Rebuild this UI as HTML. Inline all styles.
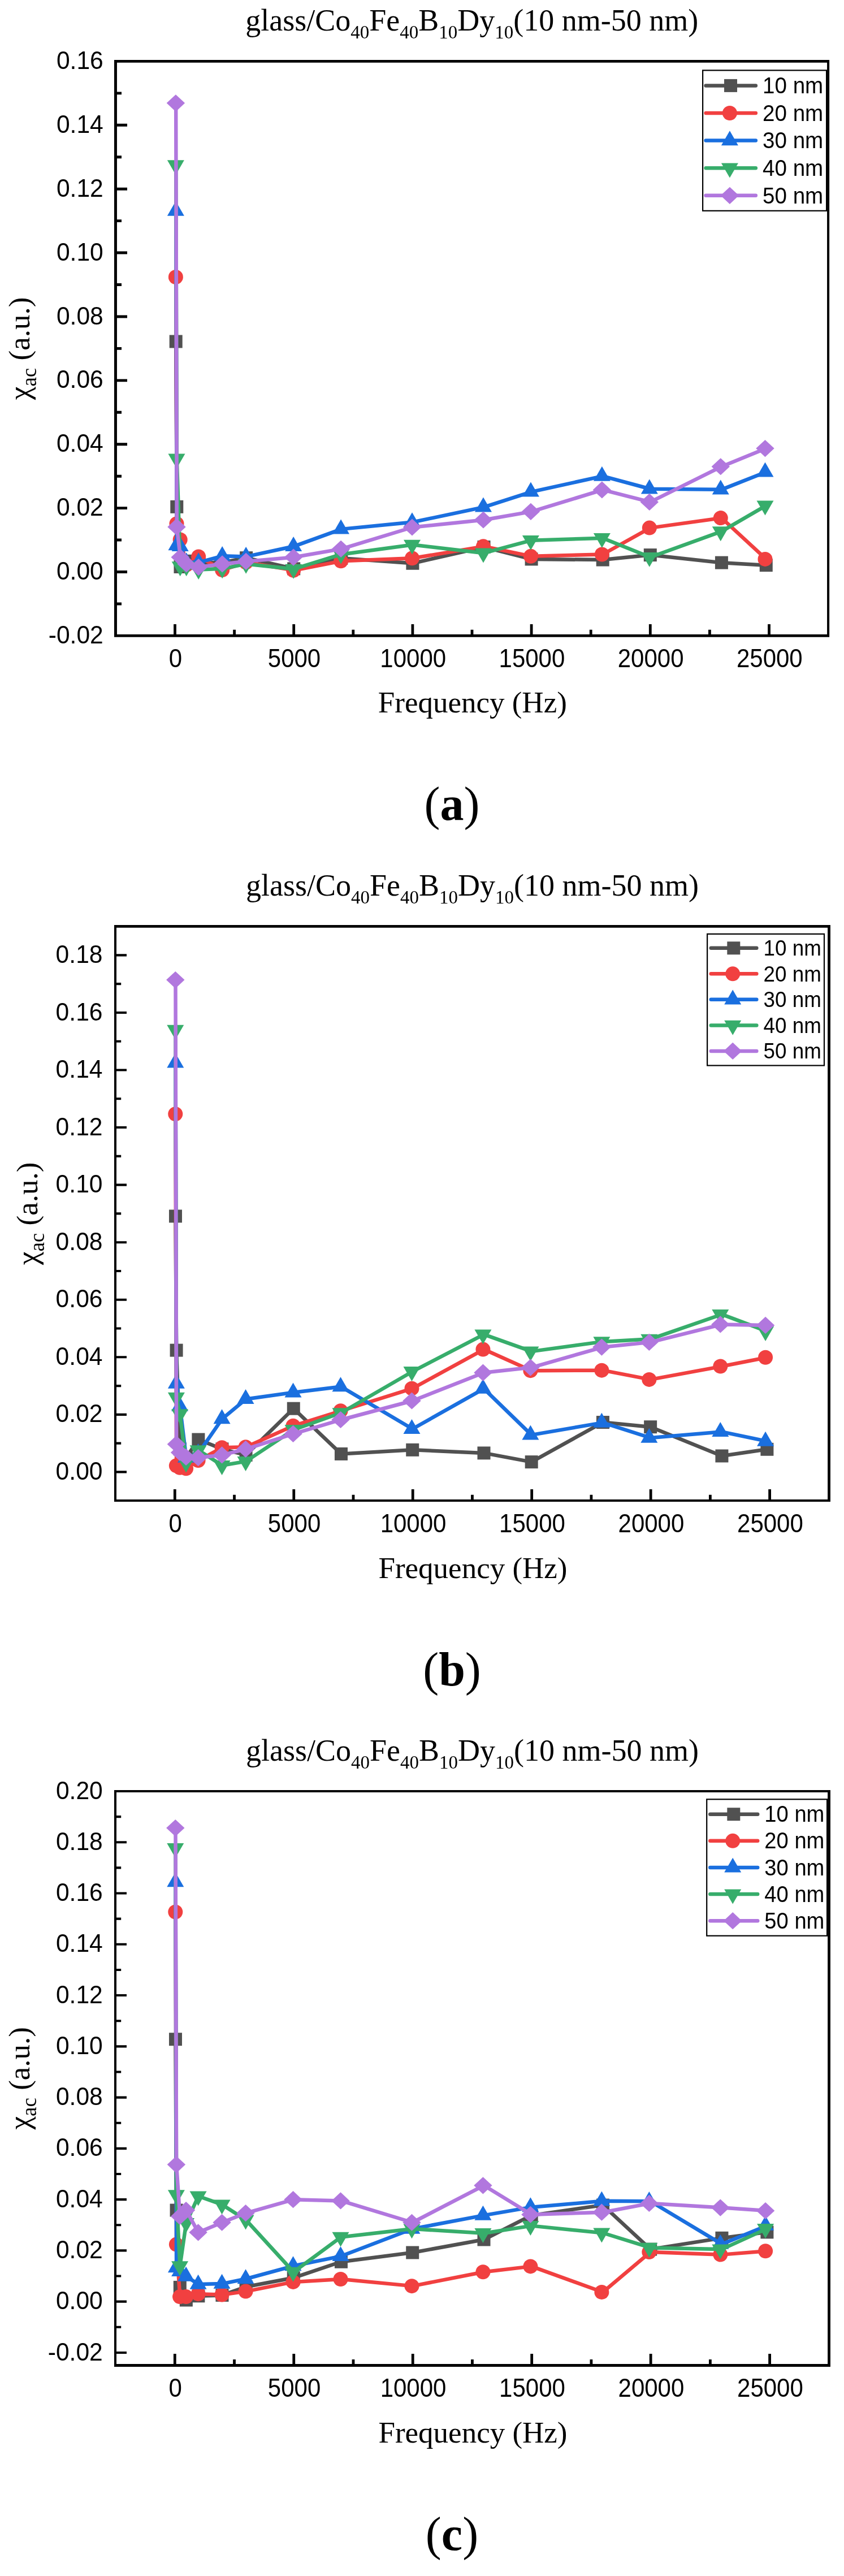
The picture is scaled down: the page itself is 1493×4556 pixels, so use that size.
<!DOCTYPE html>
<html><head><meta charset="utf-8"><title>AC susceptibility</title>
<style>html,body{margin:0;padding:0;background:#fff}body{width:1493px;height:4556px;overflow:hidden}svg{display:block;will-change:transform}</style>
</head><body>
<svg width="1493" height="4556" viewBox="0 0 1493 4556">
<rect width="1493" height="4556" fill="#fff"/>
<g>
<text x="834.8" y="54" text-anchor="middle" font-family='"Liberation Serif", serif' font-size="54" fill="#000">glass/Co<tspan font-size="33" dy="14">40</tspan><tspan dy="-14">Fe</tspan><tspan font-size="33" dy="14">40</tspan><tspan dy="-14">B</tspan><tspan font-size="33" dy="14">10</tspan><tspan dy="-14">Dy</tspan><tspan font-size="33" dy="14">10</tspan><tspan dy="-14">(10 nm-50 nm)</tspan></text>
<polyline fill="none" stroke="#515151" stroke-width="6.5" stroke-linejoin="round" points="311.18,603.98 312.78,896.36 319,1002.48 330.02,992.32 351.54,995.71 393.58,994.58 435.62,986.68 519.7,1005.87 603.78,987.24 729.9,996.27 856.02,967.48 940.1,988.93 1066.22,990.06 1150.3,981.6 1276.42,995.14 1355.25,999.66"/>
<rect x="299.68" y="592.48" width="23" height="23" fill="#515151"/>
<rect x="301.28" y="884.86" width="23" height="23" fill="#515151"/>
<rect x="307.5" y="990.98" width="23" height="23" fill="#515151"/>
<rect x="318.52" y="980.82" width="23" height="23" fill="#515151"/>
<rect x="340.04" y="984.21" width="23" height="23" fill="#515151"/>
<rect x="382.08" y="983.08" width="23" height="23" fill="#515151"/>
<rect x="424.12" y="975.18" width="23" height="23" fill="#515151"/>
<rect x="508.2" y="994.37" width="23" height="23" fill="#515151"/>
<rect x="592.28" y="975.74" width="23" height="23" fill="#515151"/>
<rect x="718.4" y="984.77" width="23" height="23" fill="#515151"/>
<rect x="844.52" y="955.98" width="23" height="23" fill="#515151"/>
<rect x="928.6" y="977.43" width="23" height="23" fill="#515151"/>
<rect x="1054.72" y="978.56" width="23" height="23" fill="#515151"/>
<rect x="1138.8" y="970.1" width="23" height="23" fill="#515151"/>
<rect x="1264.92" y="983.64" width="23" height="23" fill="#515151"/>
<rect x="1343.75" y="988.16" width="23" height="23" fill="#515151"/>
<polyline fill="none" stroke="#F14040" stroke-width="6.5" stroke-linejoin="round" points="311.18,489.96 312.78,926.28 319,954.5 330.02,999.09 351.54,984.42 393.58,1008.12 435.62,994.58 519.7,1008.69 603.78,992.32 729.9,987.24 856.02,966.36 940.1,983.85 1066.22,980.47 1150.3,933.62 1276.42,916.12 1355.25,988.93"/>
<circle cx="310.88" cy="489.96" r="13" fill="#F14040"/>
<circle cx="312.47" cy="926.28" r="13" fill="#F14040"/>
<circle cx="318.69" cy="954.5" r="13" fill="#F14040"/>
<circle cx="329.69" cy="999.09" r="13" fill="#F14040"/>
<circle cx="351.18" cy="984.42" r="13" fill="#F14040"/>
<circle cx="393.16" cy="1008.12" r="13" fill="#F14040"/>
<circle cx="435.14" cy="994.58" r="13" fill="#F14040"/>
<circle cx="519.11" cy="1008.69" r="13" fill="#F14040"/>
<circle cx="603.07" cy="992.32" r="13" fill="#F14040"/>
<circle cx="729.01" cy="987.24" r="13" fill="#F14040"/>
<circle cx="854.95" cy="966.36" r="13" fill="#F14040"/>
<circle cx="938.92" cy="983.85" r="13" fill="#F14040"/>
<circle cx="1064.86" cy="980.47" r="13" fill="#F14040"/>
<circle cx="1148.82" cy="933.62" r="13" fill="#F14040"/>
<circle cx="1274.77" cy="916.12" r="13" fill="#F14040"/>
<circle cx="1353.48" cy="988.93" r="13" fill="#F14040"/>
<polyline fill="none" stroke="#1A6FDF" stroke-width="6.5" stroke-linejoin="round" points="311.18,373.12 312.78,964.66 319,966.36 330.02,994.58 351.54,994.58 393.58,983.29 435.62,984.42 519.7,966.36 603.78,935.88 729.9,923.46 856.02,896.93 940.1,869.84 1066.22,842.18 1150.3,864.76 1276.42,865.88 1355.25,834.84"/>
<polygon points="310.88,355.8 295.88,381.78 325.88,381.78" fill="#1A6FDF"/>
<polygon points="312.47,947.34 297.47,973.32 327.47,973.32" fill="#1A6FDF"/>
<polygon points="318.69,949.04 303.69,975.02 333.69,975.02" fill="#1A6FDF"/>
<polygon points="329.69,977.26 314.69,1003.24 344.69,1003.24" fill="#1A6FDF"/>
<polygon points="351.18,977.26 336.18,1003.24 366.18,1003.24" fill="#1A6FDF"/>
<polygon points="393.16,965.97 378.16,991.95 408.16,991.95" fill="#1A6FDF"/>
<polygon points="435.14,967.1 420.14,993.08 450.14,993.08" fill="#1A6FDF"/>
<polygon points="519.11,949.04 504.11,975.02 534.11,975.02" fill="#1A6FDF"/>
<polygon points="603.07,918.56 588.07,944.54 618.07,944.54" fill="#1A6FDF"/>
<polygon points="729.01,906.14 714.01,932.12 744.01,932.12" fill="#1A6FDF"/>
<polygon points="854.95,879.61 839.95,905.59 869.95,905.59" fill="#1A6FDF"/>
<polygon points="938.92,852.52 923.92,878.5 953.92,878.5" fill="#1A6FDF"/>
<polygon points="1064.86,824.86 1049.86,850.84 1079.86,850.84" fill="#1A6FDF"/>
<polygon points="1148.82,847.44 1133.82,873.42 1163.82,873.42" fill="#1A6FDF"/>
<polygon points="1274.77,848.56 1259.77,874.54 1289.77,874.54" fill="#1A6FDF"/>
<polygon points="1353.48,817.52 1338.48,843.5 1368.48,843.5" fill="#1A6FDF"/>
<polyline fill="none" stroke="#37AD6B" stroke-width="6.5" stroke-linejoin="round" points="311.18,291.84 312.78,811.13 319,1001.92 330.02,1001.92 351.54,1007.56 393.58,1005.87 435.62,997.4 519.7,1006.43 603.78,980.47 729.9,963.53 856.02,978.21 940.1,955.63 1066.22,951.68 1150.3,985.55 1276.42,939.83 1355.25,894.11"/>
<polygon points="310.88,309.16 295.88,283.18 325.88,283.18" fill="#37AD6B"/>
<polygon points="312.47,828.45 297.47,802.47 327.47,802.47" fill="#37AD6B"/>
<polygon points="318.69,1019.24 303.69,993.26 333.69,993.26" fill="#37AD6B"/>
<polygon points="329.69,1019.24 314.69,993.26 344.69,993.26" fill="#37AD6B"/>
<polygon points="351.18,1024.88 336.18,998.9 366.18,998.9" fill="#37AD6B"/>
<polygon points="393.16,1023.19 378.16,997.21 408.16,997.21" fill="#37AD6B"/>
<polygon points="435.14,1014.72 420.14,988.74 450.14,988.74" fill="#37AD6B"/>
<polygon points="519.11,1023.75 504.11,997.77 534.11,997.77" fill="#37AD6B"/>
<polygon points="603.07,997.79 588.07,971.81 618.07,971.81" fill="#37AD6B"/>
<polygon points="729.01,980.85 714.01,954.87 744.01,954.87" fill="#37AD6B"/>
<polygon points="854.95,995.53 839.95,969.55 869.95,969.55" fill="#37AD6B"/>
<polygon points="938.92,972.95 923.92,946.97 953.92,946.97" fill="#37AD6B"/>
<polygon points="1064.86,969 1049.86,943.02 1079.86,943.02" fill="#37AD6B"/>
<polygon points="1148.82,1002.87 1133.82,976.89 1163.82,976.89" fill="#37AD6B"/>
<polygon points="1274.77,957.15 1259.77,931.17 1289.77,931.17" fill="#37AD6B"/>
<polygon points="1353.48,911.43 1338.48,885.45 1368.48,885.45" fill="#37AD6B"/>
<polyline fill="none" stroke="#B177DE" stroke-width="6.5" stroke-linejoin="round" points="311.18,182.34 312.78,931.92 319,985.55 330.02,997.4 351.54,1003.04 393.58,997.4 435.62,992.88 519.7,985.55 603.78,970.87 729.9,932.49 856.02,919.51 940.1,904.83 1066.22,866.45 1150.3,887.9 1276.42,825.24 1355.25,793.07"/>
<polygon points="310.88,167.24 327.08,182.34 310.88,197.44 294.68,182.34" fill="#B177DE"/>
<polygon points="312.47,916.82 328.67,931.92 312.47,947.02 296.27,931.92" fill="#B177DE"/>
<polygon points="318.69,970.45 334.89,985.55 318.69,1000.65 302.49,985.55" fill="#B177DE"/>
<polygon points="329.69,982.3 345.89,997.4 329.69,1012.5 313.49,997.4" fill="#B177DE"/>
<polygon points="351.18,987.94 367.38,1003.04 351.18,1018.14 334.98,1003.04" fill="#B177DE"/>
<polygon points="393.16,982.3 409.36,997.4 393.16,1012.5 376.96,997.4" fill="#B177DE"/>
<polygon points="435.14,977.78 451.34,992.88 435.14,1007.98 418.94,992.88" fill="#B177DE"/>
<polygon points="519.11,970.45 535.31,985.55 519.11,1000.65 502.91,985.55" fill="#B177DE"/>
<polygon points="603.07,955.77 619.27,970.87 603.07,985.97 586.87,970.87" fill="#B177DE"/>
<polygon points="729.01,917.39 745.21,932.49 729.01,947.59 712.81,932.49" fill="#B177DE"/>
<polygon points="854.95,904.41 871.15,919.51 854.95,934.61 838.75,919.51" fill="#B177DE"/>
<polygon points="938.92,889.73 955.12,904.83 938.92,919.93 922.72,904.83" fill="#B177DE"/>
<polygon points="1064.86,851.35 1081.06,866.45 1064.86,881.55 1048.66,866.45" fill="#B177DE"/>
<polygon points="1148.82,872.8 1165.02,887.9 1148.82,903 1132.62,887.9" fill="#B177DE"/>
<polygon points="1274.77,810.14 1290.97,825.24 1274.77,840.34 1258.57,825.24" fill="#B177DE"/>
<polygon points="1353.48,777.97 1369.68,793.07 1353.48,808.17 1337.28,793.07" fill="#B177DE"/>
<path fill="#000" d="M201.97 106H1467.1V1126.84H201.97ZM206.94 110.8H1463.05V1122H206.94Z" fill-rule="evenodd"/>
<text transform="translate(182.8 122) scale(1 1.06)" text-anchor="end" font-family='"Liberation Sans", sans-serif' font-size="42.6" fill="#000">0.16</text>
<text transform="translate(182.8 234.89) scale(1 1.06)" text-anchor="end" font-family='"Liberation Sans", sans-serif' font-size="42.6" fill="#000">0.14</text>
<text transform="translate(182.8 347.78) scale(1 1.06)" text-anchor="end" font-family='"Liberation Sans", sans-serif' font-size="42.6" fill="#000">0.12</text>
<text transform="translate(182.8 460.67) scale(1 1.06)" text-anchor="end" font-family='"Liberation Sans", sans-serif' font-size="42.6" fill="#000">0.10</text>
<text transform="translate(182.8 573.56) scale(1 1.06)" text-anchor="end" font-family='"Liberation Sans", sans-serif' font-size="42.6" fill="#000">0.08</text>
<text transform="translate(182.8 686.44) scale(1 1.06)" text-anchor="end" font-family='"Liberation Sans", sans-serif' font-size="42.6" fill="#000">0.06</text>
<text transform="translate(182.8 799.33) scale(1 1.06)" text-anchor="end" font-family='"Liberation Sans", sans-serif' font-size="42.6" fill="#000">0.04</text>
<text transform="translate(182.8 912.22) scale(1 1.06)" text-anchor="end" font-family='"Liberation Sans", sans-serif' font-size="42.6" fill="#000">0.02</text>
<text transform="translate(182.8 1025.11) scale(1 1.06)" text-anchor="end" font-family='"Liberation Sans", sans-serif' font-size="42.6" fill="#000">0.00</text>
<text transform="translate(182.8 1138) scale(1 1.06)" text-anchor="end" font-family='"Liberation Sans", sans-serif' font-size="42.6" fill="#000">-0.02</text>
<path d="M204.5 221.29H225M204.5 334.18H225M204.5 447.07H225M204.5 559.96H225M204.5 672.84H225M204.5 785.73H225M204.5 898.62H225M204.5 1011.51H225M204.5 164.84H215M204.5 277.73H215M204.5 390.62H215M204.5 503.51H215M204.5 616.4H215M204.5 729.29H215M204.5 842.18H215M204.5 955.07H215M204.5 1067.96H215" stroke="#000" stroke-width="4.9" fill="none"/>
<text transform="translate(310.3 1180) scale(1 1.11)" text-anchor="middle" font-family='"Liberation Sans", sans-serif' font-size="42" fill="#000">0</text>
<text transform="translate(520.5 1180) scale(1 1.11)" text-anchor="middle" font-family='"Liberation Sans", sans-serif' font-size="42" fill="#000">5000</text>
<text transform="translate(730.7 1180) scale(1 1.11)" text-anchor="middle" font-family='"Liberation Sans", sans-serif' font-size="42" fill="#000">10000</text>
<text transform="translate(940.9 1180) scale(1 1.11)" text-anchor="middle" font-family='"Liberation Sans", sans-serif' font-size="42" fill="#000">15000</text>
<text transform="translate(1151.1 1180) scale(1 1.11)" text-anchor="middle" font-family='"Liberation Sans", sans-serif' font-size="42" fill="#000">20000</text>
<text transform="translate(1361.3 1180) scale(1 1.11)" text-anchor="middle" font-family='"Liberation Sans", sans-serif' font-size="42" fill="#000">25000</text>
<path d="M309.5 1124.4V1104M519.7 1124.4V1104M729.9 1124.4V1104M940.1 1124.4V1104M1150.3 1124.4V1104M1360.5 1124.4V1104M414.6 1124.4V1113.8M624.8 1124.4V1113.8M835 1124.4V1113.8M1045.2 1124.4V1113.8M1255.4 1124.4V1113.8" stroke="#000" stroke-width="4.8" fill="none"/>
<text x="835.8" y="1259.9" text-anchor="middle" font-family='"Liberation Serif", serif' font-size="53" fill="#000">Frequency (Hz)</text>
<text transform="translate(52.3 616.4) rotate(-90)" text-anchor="middle" font-family='"Liberation Serif", serif' font-size="53" fill="#000">χ<tspan font-size="37" dy="12">ac</tspan><tspan dy="-12"> (a.u.)</tspan></text>
<rect x="1243.1" y="124.4" width="219" height="248.4" fill="#fff" stroke="#000" stroke-width="2.2"/>
<path d="M1248.6 151.4H1336.8" stroke="#515151" stroke-width="6.5" stroke-linecap="round" fill="none"/>
<rect x="1281" y="139.9" width="23" height="23" fill="#515151"/>
<text transform="translate(1349 165.1) scale(1 1.075)" font-family='"Liberation Sans", sans-serif' font-size="38.6" fill="#000">10 nm</text>
<path d="M1248.6 200H1336.8" stroke="#F14040" stroke-width="6.5" stroke-linecap="round" fill="none"/>
<circle cx="1290.9" cy="200" r="13" fill="#F14040"/>
<text transform="translate(1349 213.7) scale(1 1.075)" font-family='"Liberation Sans", sans-serif' font-size="38.6" fill="#000">20 nm</text>
<path d="M1248.6 248.6H1336.8" stroke="#1A6FDF" stroke-width="6.5" stroke-linecap="round" fill="none"/>
<polygon points="1290.9,231.28 1275.9,257.26 1305.9,257.26" fill="#1A6FDF"/>
<text transform="translate(1349 262.3) scale(1 1.075)" font-family='"Liberation Sans", sans-serif' font-size="38.6" fill="#000">30 nm</text>
<path d="M1248.6 297.2H1336.8" stroke="#37AD6B" stroke-width="6.5" stroke-linecap="round" fill="none"/>
<polygon points="1290.9,314.52 1275.9,288.54 1305.9,288.54" fill="#37AD6B"/>
<text transform="translate(1349 310.9) scale(1 1.075)" font-family='"Liberation Sans", sans-serif' font-size="38.6" fill="#000">40 nm</text>
<path d="M1248.6 345.8H1336.8" stroke="#B177DE" stroke-width="6.5" stroke-linecap="round" fill="none"/>
<polygon points="1290.9,330.7 1307.1,345.8 1290.9,360.9 1274.7,345.8" fill="#B177DE"/>
<text transform="translate(1349 359.5) scale(1 1.075)" font-family='"Liberation Sans", sans-serif' font-size="38.6" fill="#000">50 nm</text>
<text x="799.5" y="1449.9" text-anchor="middle" font-family='"Liberation Serif", serif' font-size="84" fill="#000">(<tspan font-weight="bold">a</tspan>)</text>
</g>
<g>
<text x="835.5" y="1584.2" text-anchor="middle" font-family='"Liberation Serif", serif' font-size="54" fill="#000">glass/Co<tspan font-size="33" dy="14">40</tspan><tspan dy="-14">Fe</tspan><tspan font-size="33" dy="14">40</tspan><tspan dy="-14">B</tspan><tspan font-size="33" dy="14">10</tspan><tspan dy="-14">Dy</tspan><tspan font-size="33" dy="14">10</tspan><tspan dy="-14">(10 nm-50 nm)</tspan></text>
<polyline fill="none" stroke="#515151" stroke-width="6.5" stroke-linejoin="round" points="310.48,2150.97 312.08,2388.11 318.31,2562.8 329.34,2578.03 350.89,2546.04 392.98,2562.8 435.08,2573.46 519.26,2491.2 603.44,2571.43 729.72,2564.32 856,2569.91 940.18,2585.65 1066.46,2515.57 1150.64,2523.7 1276.92,2574.98 1356.89,2563.3"/>
<rect x="298.98" y="2139.47" width="23" height="23" fill="#515151"/>
<rect x="300.58" y="2376.61" width="23" height="23" fill="#515151"/>
<rect x="306.81" y="2551.3" width="23" height="23" fill="#515151"/>
<rect x="317.84" y="2566.53" width="23" height="23" fill="#515151"/>
<rect x="339.39" y="2534.54" width="23" height="23" fill="#515151"/>
<rect x="381.48" y="2551.3" width="23" height="23" fill="#515151"/>
<rect x="423.58" y="2561.96" width="23" height="23" fill="#515151"/>
<rect x="507.76" y="2479.7" width="23" height="23" fill="#515151"/>
<rect x="591.94" y="2559.93" width="23" height="23" fill="#515151"/>
<rect x="718.22" y="2552.82" width="23" height="23" fill="#515151"/>
<rect x="844.5" y="2558.41" width="23" height="23" fill="#515151"/>
<rect x="928.68" y="2574.15" width="23" height="23" fill="#515151"/>
<rect x="1054.96" y="2504.07" width="23" height="23" fill="#515151"/>
<rect x="1139.14" y="2512.2" width="23" height="23" fill="#515151"/>
<rect x="1265.42" y="2563.48" width="23" height="23" fill="#515151"/>
<rect x="1345.39" y="2551.8" width="23" height="23" fill="#515151"/>
<polyline fill="none" stroke="#F14040" stroke-width="6.5" stroke-linejoin="round" points="310.48,1970.19 312.08,2592.25 318.31,2595.8 329.34,2597.33 350.89,2583.11 392.98,2560.26 435.08,2559.24 519.26,2521.66 603.44,2495.26 729.72,2455.65 856,2386.59 940.18,2424.17 1066.46,2423.66 1150.64,2439.91 1276.92,2416.55 1356.89,2400.81"/>
<circle cx="310.28" cy="1970.19" r="13" fill="#F14040"/>
<circle cx="311.88" cy="2592.25" r="13" fill="#F14040"/>
<circle cx="318.09" cy="2595.8" r="13" fill="#F14040"/>
<circle cx="329.09" cy="2597.33" r="13" fill="#F14040"/>
<circle cx="350.59" cy="2583.11" r="13" fill="#F14040"/>
<circle cx="392.57" cy="2560.26" r="13" fill="#F14040"/>
<circle cx="434.56" cy="2559.24" r="13" fill="#F14040"/>
<circle cx="518.54" cy="2521.66" r="13" fill="#F14040"/>
<circle cx="602.51" cy="2495.26" r="13" fill="#F14040"/>
<circle cx="728.47" cy="2455.65" r="13" fill="#F14040"/>
<circle cx="854.43" cy="2386.59" r="13" fill="#F14040"/>
<circle cx="938.4" cy="2424.17" r="13" fill="#F14040"/>
<circle cx="1064.36" cy="2423.66" r="13" fill="#F14040"/>
<circle cx="1148.34" cy="2439.91" r="13" fill="#F14040"/>
<circle cx="1274.3" cy="2416.55" r="13" fill="#F14040"/>
<circle cx="1354.07" cy="2400.81" r="13" fill="#F14040"/>
<polyline fill="none" stroke="#1A6FDF" stroke-width="6.5" stroke-linejoin="round" points="310.48,1879.8 312.08,2447.02 318.31,2487.13 329.34,2578.03 350.89,2570.41 392.98,2509.48 435.08,2474.44 519.26,2462.76 603.44,2452.6 729.72,2527.25 856,2456.16 940.18,2537.91 1066.46,2516.08 1150.64,2542.99 1276.92,2532.33 1356.89,2549.09"/>
<polygon points="310.28,1862.48 295.28,1888.47 325.28,1888.47" fill="#1A6FDF"/>
<polygon points="311.88,2429.7 296.88,2455.68 326.88,2455.68" fill="#1A6FDF"/>
<polygon points="318.09,2469.81 303.09,2495.79 333.09,2495.79" fill="#1A6FDF"/>
<polygon points="329.09,2560.71 314.09,2586.69 344.09,2586.69" fill="#1A6FDF"/>
<polygon points="350.59,2553.09 335.59,2579.07 365.59,2579.07" fill="#1A6FDF"/>
<polygon points="392.57,2492.16 377.57,2518.14 407.57,2518.14" fill="#1A6FDF"/>
<polygon points="434.56,2457.12 419.56,2483.1 449.56,2483.1" fill="#1A6FDF"/>
<polygon points="518.54,2445.44 503.54,2471.42 533.54,2471.42" fill="#1A6FDF"/>
<polygon points="602.51,2435.28 587.51,2461.26 617.51,2461.26" fill="#1A6FDF"/>
<polygon points="728.47,2509.93 713.47,2535.91 743.47,2535.91" fill="#1A6FDF"/>
<polygon points="854.43,2438.84 839.43,2464.82 869.43,2464.82" fill="#1A6FDF"/>
<polygon points="938.4,2520.59 923.4,2546.57 953.4,2546.57" fill="#1A6FDF"/>
<polygon points="1064.36,2498.76 1049.36,2524.74 1079.36,2524.74" fill="#1A6FDF"/>
<polygon points="1148.34,2525.67 1133.34,2551.65 1163.34,2551.65" fill="#1A6FDF"/>
<polygon points="1274.3,2515.01 1259.3,2540.99 1289.3,2540.99" fill="#1A6FDF"/>
<polygon points="1354.07,2531.76 1339.07,2557.75 1369.07,2557.75" fill="#1A6FDF"/>
<polyline fill="none" stroke="#37AD6B" stroke-width="6.5" stroke-linejoin="round" points="310.48,1821.41 312.08,2471.39 318.31,2500.84 329.34,2587.17 350.89,2564.83 392.98,2591.74 435.08,2584.63 519.26,2528.77 603.44,2498.81 729.72,2425.69 856,2360.18 940.18,2390.14 1066.46,2372.88 1150.64,2368.31 1276.92,2324.64 1356.89,2354.6"/>
<polygon points="310.28,1838.73 295.28,1812.75 325.28,1812.75" fill="#37AD6B"/>
<polygon points="311.88,2488.71 296.88,2462.73 326.88,2462.73" fill="#37AD6B"/>
<polygon points="318.09,2518.16 303.09,2492.18 333.09,2492.18" fill="#37AD6B"/>
<polygon points="329.09,2604.49 314.09,2578.51 344.09,2578.51" fill="#37AD6B"/>
<polygon points="350.59,2582.15 335.59,2556.17 365.59,2556.17" fill="#37AD6B"/>
<polygon points="392.57,2609.06 377.57,2583.08 407.57,2583.08" fill="#37AD6B"/>
<polygon points="434.56,2601.95 419.56,2575.97 449.56,2575.97" fill="#37AD6B"/>
<polygon points="518.54,2546.09 503.54,2520.11 533.54,2520.11" fill="#37AD6B"/>
<polygon points="602.51,2516.13 587.51,2490.15 617.51,2490.15" fill="#37AD6B"/>
<polygon points="728.47,2443.01 713.47,2417.03 743.47,2417.03" fill="#37AD6B"/>
<polygon points="854.43,2377.5 839.43,2351.52 869.43,2351.52" fill="#37AD6B"/>
<polygon points="938.4,2407.46 923.4,2381.48 953.4,2381.48" fill="#37AD6B"/>
<polygon points="1064.36,2390.2 1049.36,2364.22 1079.36,2364.22" fill="#37AD6B"/>
<polygon points="1148.34,2385.63 1133.34,2359.65 1163.34,2359.65" fill="#37AD6B"/>
<polygon points="1274.3,2341.96 1259.3,2315.98 1289.3,2315.98" fill="#37AD6B"/>
<polygon points="1354.07,2371.92 1339.07,2345.94 1369.07,2345.94" fill="#37AD6B"/>
<polyline fill="none" stroke="#B177DE" stroke-width="6.5" stroke-linejoin="round" points="310.48,1733.05 312.08,2554.16 318.31,2568.89 329.34,2577.01 350.89,2578.03 392.98,2573.46 435.08,2562.8 519.26,2535.88 603.44,2511 729.72,2477.49 856,2427.72 940.18,2418.58 1066.46,2382.53 1150.64,2373.89 1276.92,2342.41 1356.89,2343.93"/>
<polygon points="310.28,1717.95 326.48,1733.05 310.28,1748.15 294.08,1733.05" fill="#B177DE"/>
<polygon points="311.88,2539.06 328.08,2554.16 311.88,2569.26 295.68,2554.16" fill="#B177DE"/>
<polygon points="318.09,2553.79 334.29,2568.89 318.09,2583.99 301.89,2568.89" fill="#B177DE"/>
<polygon points="329.09,2561.91 345.29,2577.01 329.09,2592.11 312.89,2577.01" fill="#B177DE"/>
<polygon points="350.59,2562.93 366.79,2578.03 350.59,2593.13 334.39,2578.03" fill="#B177DE"/>
<polygon points="392.57,2558.36 408.77,2573.46 392.57,2588.56 376.37,2573.46" fill="#B177DE"/>
<polygon points="434.56,2547.7 450.76,2562.8 434.56,2577.9 418.36,2562.8" fill="#B177DE"/>
<polygon points="518.54,2520.78 534.74,2535.88 518.54,2550.98 502.34,2535.88" fill="#B177DE"/>
<polygon points="602.51,2495.9 618.71,2511 602.51,2526.1 586.31,2511" fill="#B177DE"/>
<polygon points="728.47,2462.39 744.67,2477.49 728.47,2492.59 712.27,2477.49" fill="#B177DE"/>
<polygon points="854.43,2412.62 870.63,2427.72 854.43,2442.82 838.23,2427.72" fill="#B177DE"/>
<polygon points="938.4,2403.48 954.6,2418.58 938.4,2433.68 922.2,2418.58" fill="#B177DE"/>
<polygon points="1064.36,2367.43 1080.56,2382.53 1064.36,2397.63 1048.16,2382.53" fill="#B177DE"/>
<polygon points="1148.34,2358.79 1164.54,2373.89 1148.34,2388.99 1132.14,2373.89" fill="#B177DE"/>
<polygon points="1274.3,2327.31 1290.5,2342.41 1274.3,2357.51 1258.1,2342.41" fill="#B177DE"/>
<polygon points="1354.07,2328.83 1370.27,2343.93 1354.07,2359.03 1337.87,2343.93" fill="#B177DE"/>
<path fill="#000" d="M201.97 1636H1468.95V2655.9H201.97ZM206 1640.8H1464.1V2652H206Z" fill-rule="evenodd"/>
<text transform="translate(181.5 1702.98) scale(1 1.06)" text-anchor="end" font-family='"Liberation Sans", sans-serif' font-size="42.6" fill="#000">0.18</text>
<text transform="translate(181.5 1804.54) scale(1 1.06)" text-anchor="end" font-family='"Liberation Sans", sans-serif' font-size="42.6" fill="#000">0.16</text>
<text transform="translate(181.5 1906.1) scale(1 1.06)" text-anchor="end" font-family='"Liberation Sans", sans-serif' font-size="42.6" fill="#000">0.14</text>
<text transform="translate(181.5 2007.66) scale(1 1.06)" text-anchor="end" font-family='"Liberation Sans", sans-serif' font-size="42.6" fill="#000">0.12</text>
<text transform="translate(181.5 2109.22) scale(1 1.06)" text-anchor="end" font-family='"Liberation Sans", sans-serif' font-size="42.6" fill="#000">0.10</text>
<text transform="translate(181.5 2210.78) scale(1 1.06)" text-anchor="end" font-family='"Liberation Sans", sans-serif' font-size="42.6" fill="#000">0.08</text>
<text transform="translate(181.5 2312.34) scale(1 1.06)" text-anchor="end" font-family='"Liberation Sans", sans-serif' font-size="42.6" fill="#000">0.06</text>
<text transform="translate(181.5 2413.9) scale(1 1.06)" text-anchor="end" font-family='"Liberation Sans", sans-serif' font-size="42.6" fill="#000">0.04</text>
<text transform="translate(181.5 2515.46) scale(1 1.06)" text-anchor="end" font-family='"Liberation Sans", sans-serif' font-size="42.6" fill="#000">0.02</text>
<text transform="translate(181.5 2617.02) scale(1 1.06)" text-anchor="end" font-family='"Liberation Sans", sans-serif' font-size="42.6" fill="#000">0.00</text>
<path d="M204.5 1689.38H224M204.5 1790.94H224M204.5 1892.5H224M204.5 1994.06H224M204.5 2095.62H224M204.5 2197.18H224M204.5 2298.74H224M204.5 2400.3H224M204.5 2501.86H224M204.5 2603.42H224M204.5 1740.16H214.2M204.5 1841.72H214.2M204.5 1943.28H214.2M204.5 2044.84H214.2M204.5 2146.4H214.2M204.5 2247.96H214.2M204.5 2349.52H214.2M204.5 2451.08H214.2M204.5 2552.64H214.2" stroke="#000" stroke-width="4.1" fill="none"/>
<text transform="translate(310.1 2709.8) scale(1 1.11)" text-anchor="middle" font-family='"Liberation Sans", sans-serif' font-size="42" fill="#000">0</text>
<text transform="translate(520.56 2709.8) scale(1 1.11)" text-anchor="middle" font-family='"Liberation Sans", sans-serif' font-size="42" fill="#000">5000</text>
<text transform="translate(731.02 2709.8) scale(1 1.11)" text-anchor="middle" font-family='"Liberation Sans", sans-serif' font-size="42" fill="#000">10000</text>
<text transform="translate(941.48 2709.8) scale(1 1.11)" text-anchor="middle" font-family='"Liberation Sans", sans-serif' font-size="42" fill="#000">15000</text>
<text transform="translate(1151.94 2709.8) scale(1 1.11)" text-anchor="middle" font-family='"Liberation Sans", sans-serif' font-size="42" fill="#000">20000</text>
<text transform="translate(1362.4 2709.8) scale(1 1.11)" text-anchor="middle" font-family='"Liberation Sans", sans-serif' font-size="42" fill="#000">25000</text>
<path d="M309.3 2654.2V2634M519.76 2654.2V2634M730.22 2654.2V2634M940.68 2654.2V2634M1151.14 2654.2V2634M1361.6 2654.2V2634M414.53 2654.2V2643.8M624.99 2654.2V2643.8M835.45 2654.2V2643.8M1045.91 2654.2V2643.8M1256.37 2654.2V2643.8" stroke="#000" stroke-width="4.8" fill="none"/>
<text x="836.5" y="2790.6" text-anchor="middle" font-family='"Liberation Serif", serif' font-size="53" fill="#000">Frequency (Hz)</text>
<text transform="translate(66.3 2146.4) rotate(-90)" text-anchor="middle" font-family='"Liberation Serif", serif' font-size="53" fill="#000">χ<tspan font-size="37" dy="12">ac</tspan><tspan dy="-12"> (a.u.)</tspan></text>
<rect x="1251.1" y="1651.9" width="206.9" height="232.6" fill="#fff" stroke="#000" stroke-width="2.2"/>
<path d="M1257.8 1676.8H1338.3" stroke="#515151" stroke-width="6.5" stroke-linecap="round" fill="none"/>
<rect x="1286.3" y="1665.3" width="23" height="23" fill="#515151"/>
<text transform="translate(1350.6 1690.1) scale(1 1.075)" font-family='"Liberation Sans", sans-serif' font-size="36.8" fill="#000">10 nm</text>
<path d="M1257.8 1722.33H1338.3" stroke="#F14040" stroke-width="6.5" stroke-linecap="round" fill="none"/>
<circle cx="1296.2" cy="1722.33" r="13" fill="#F14040"/>
<text transform="translate(1350.6 1735.63) scale(1 1.075)" font-family='"Liberation Sans", sans-serif' font-size="36.8" fill="#000">20 nm</text>
<path d="M1257.8 1767.86H1338.3" stroke="#1A6FDF" stroke-width="6.5" stroke-linecap="round" fill="none"/>
<polygon points="1296.2,1750.54 1281.2,1776.52 1311.2,1776.52" fill="#1A6FDF"/>
<text transform="translate(1350.6 1781.16) scale(1 1.075)" font-family='"Liberation Sans", sans-serif' font-size="36.8" fill="#000">30 nm</text>
<path d="M1257.8 1813.39H1338.3" stroke="#37AD6B" stroke-width="6.5" stroke-linecap="round" fill="none"/>
<polygon points="1296.2,1830.71 1281.2,1804.73 1311.2,1804.73" fill="#37AD6B"/>
<text transform="translate(1350.6 1826.69) scale(1 1.075)" font-family='"Liberation Sans", sans-serif' font-size="36.8" fill="#000">40 nm</text>
<path d="M1257.8 1858.92H1338.3" stroke="#B177DE" stroke-width="6.5" stroke-linecap="round" fill="none"/>
<polygon points="1296.2,1843.82 1312.4,1858.92 1296.2,1874.02 1280,1858.92" fill="#B177DE"/>
<text transform="translate(1350.6 1872.22) scale(1 1.075)" font-family='"Liberation Sans", sans-serif' font-size="36.8" fill="#000">50 nm</text>
<text x="799.5" y="2980.7" text-anchor="middle" font-family='"Liberation Serif", serif' font-size="84" fill="#000">(<tspan font-weight="bold">b</tspan>)</text>
</g>
<g>
<text x="835.5" y="3113.6" text-anchor="middle" font-family='"Liberation Serif", serif' font-size="54" fill="#000">glass/Co<tspan font-size="33" dy="14">40</tspan><tspan dy="-14">Fe</tspan><tspan font-size="33" dy="14">40</tspan><tspan dy="-14">B</tspan><tspan font-size="33" dy="14">10</tspan><tspan dy="-14">Dy</tspan><tspan font-size="33" dy="14">10</tspan><tspan dy="-14">(10 nm-50 nm)</tspan></text>
<polyline fill="none" stroke="#515151" stroke-width="6.5" stroke-linejoin="round" points="310.48,3606.7 312.08,3909.09 318.31,4045.39 329.34,4067.96 350.89,4060.74 392.98,4059.38 435.08,4044.49 519.26,4028.69 603.44,4000.26 729.72,3984.01 856,3960.99 940.18,3918.12 1066.46,3900.06 1150.64,3978.14 1276.92,3958.28 1356.89,3947.9"/>
<rect x="298.98" y="3595.2" width="23" height="23" fill="#515151"/>
<rect x="300.58" y="3897.59" width="23" height="23" fill="#515151"/>
<rect x="306.81" y="4033.89" width="23" height="23" fill="#515151"/>
<rect x="317.84" y="4056.46" width="23" height="23" fill="#515151"/>
<rect x="339.39" y="4049.24" width="23" height="23" fill="#515151"/>
<rect x="381.48" y="4047.88" width="23" height="23" fill="#515151"/>
<rect x="423.58" y="4032.99" width="23" height="23" fill="#515151"/>
<rect x="507.76" y="4017.19" width="23" height="23" fill="#515151"/>
<rect x="591.94" y="3988.76" width="23" height="23" fill="#515151"/>
<rect x="718.22" y="3972.51" width="23" height="23" fill="#515151"/>
<rect x="844.5" y="3949.49" width="23" height="23" fill="#515151"/>
<rect x="928.68" y="3906.62" width="23" height="23" fill="#515151"/>
<rect x="1054.96" y="3888.56" width="23" height="23" fill="#515151"/>
<rect x="1139.14" y="3966.64" width="23" height="23" fill="#515151"/>
<rect x="1265.42" y="3946.78" width="23" height="23" fill="#515151"/>
<rect x="1345.39" y="3936.4" width="23" height="23" fill="#515151"/>
<polyline fill="none" stroke="#F14040" stroke-width="6.5" stroke-linejoin="round" points="310.48,3381.48 312.08,3969.57 318.31,4062.09 329.34,4062.09 350.89,4057.13 392.98,4058.48 435.08,4052.61 519.26,4035.91 603.44,4030.95 729.72,4043.14 856,4018.31 940.18,4008.38 1066.46,4053.97 1150.64,3983.11 1276.92,3987.62 1356.89,3981.3"/>
<circle cx="310.28" cy="3381.48" r="13" fill="#F14040"/>
<circle cx="311.88" cy="3969.57" r="13" fill="#F14040"/>
<circle cx="318.09" cy="4062.09" r="13" fill="#F14040"/>
<circle cx="329.09" cy="4062.09" r="13" fill="#F14040"/>
<circle cx="350.59" cy="4057.13" r="13" fill="#F14040"/>
<circle cx="392.57" cy="4058.48" r="13" fill="#F14040"/>
<circle cx="434.56" cy="4052.61" r="13" fill="#F14040"/>
<circle cx="518.54" cy="4035.91" r="13" fill="#F14040"/>
<circle cx="602.51" cy="4030.95" r="13" fill="#F14040"/>
<circle cx="728.47" cy="4043.14" r="13" fill="#F14040"/>
<circle cx="854.43" cy="4018.31" r="13" fill="#F14040"/>
<circle cx="938.4" cy="4008.38" r="13" fill="#F14040"/>
<circle cx="1064.36" cy="4053.97" r="13" fill="#F14040"/>
<circle cx="1148.34" cy="3983.11" r="13" fill="#F14040"/>
<circle cx="1274.3" cy="3987.62" r="13" fill="#F14040"/>
<circle cx="1354.07" cy="3981.3" r="13" fill="#F14040"/>
<polyline fill="none" stroke="#1A6FDF" stroke-width="6.5" stroke-linejoin="round" points="310.48,3328.67 312.08,4010.64 318.31,4017.41 329.34,4025.98 350.89,4039.98 392.98,4039.07 435.08,4030.5 519.26,4007.48 603.44,3990.33 729.72,3942.04 856,3918.12 940.18,3903.67 1066.46,3892.84 1150.64,3893.29 1276.92,3969.12 1356.89,3936.17"/>
<polygon points="310.28,3311.35 295.28,3337.33 325.28,3337.33" fill="#1A6FDF"/>
<polygon points="311.88,3993.32 296.88,4019.3 326.88,4019.3" fill="#1A6FDF"/>
<polygon points="318.09,4000.09 303.09,4026.07 333.09,4026.07" fill="#1A6FDF"/>
<polygon points="329.09,4008.66 314.09,4034.64 344.09,4034.64" fill="#1A6FDF"/>
<polygon points="350.59,4022.66 335.59,4048.64 365.59,4048.64" fill="#1A6FDF"/>
<polygon points="392.57,4021.75 377.57,4047.73 407.57,4047.73" fill="#1A6FDF"/>
<polygon points="434.56,4013.18 419.56,4039.16 449.56,4039.16" fill="#1A6FDF"/>
<polygon points="518.54,3990.16 503.54,4016.14 533.54,4016.14" fill="#1A6FDF"/>
<polygon points="602.51,3973.01 587.51,3998.99 617.51,3998.99" fill="#1A6FDF"/>
<polygon points="728.47,3924.72 713.47,3950.7 743.47,3950.7" fill="#1A6FDF"/>
<polygon points="854.43,3900.8 839.43,3926.78 869.43,3926.78" fill="#1A6FDF"/>
<polygon points="938.4,3886.35 923.4,3912.33 953.4,3912.33" fill="#1A6FDF"/>
<polygon points="1064.36,3875.52 1049.36,3901.5 1079.36,3901.5" fill="#1A6FDF"/>
<polygon points="1148.34,3875.97 1133.34,3901.95 1163.34,3901.95" fill="#1A6FDF"/>
<polygon points="1274.3,3951.8 1259.3,3977.78 1289.3,3977.78" fill="#1A6FDF"/>
<polygon points="1354.07,3918.85 1339.07,3944.83 1369.07,3944.83" fill="#1A6FDF"/>
<polyline fill="none" stroke="#37AD6B" stroke-width="6.5" stroke-linejoin="round" points="310.48,3268.65 312.08,3882.01 318.31,4007.93 329.34,3931.66 350.89,3884.27 392.98,3899.16 435.08,3926.24 519.26,4018.31 603.44,3956.48 729.72,3942.04 856,3949.71 940.18,3936.62 1066.46,3949.26 1150.64,3975.44 1276.92,3978.14 1356.89,3941.59"/>
<polygon points="310.28,3285.97 295.28,3259.99 325.28,3259.99" fill="#37AD6B"/>
<polygon points="311.88,3899.33 296.88,3873.35 326.88,3873.35" fill="#37AD6B"/>
<polygon points="318.09,4025.25 303.09,3999.27 333.09,3999.27" fill="#37AD6B"/>
<polygon points="329.09,3948.98 314.09,3923 344.09,3923" fill="#37AD6B"/>
<polygon points="350.59,3901.59 335.59,3875.61 365.59,3875.61" fill="#37AD6B"/>
<polygon points="392.57,3916.48 377.57,3890.5 407.57,3890.5" fill="#37AD6B"/>
<polygon points="434.56,3943.56 419.56,3917.58 449.56,3917.58" fill="#37AD6B"/>
<polygon points="518.54,4035.63 503.54,4009.65 533.54,4009.65" fill="#37AD6B"/>
<polygon points="602.51,3973.8 587.51,3947.82 617.51,3947.82" fill="#37AD6B"/>
<polygon points="728.47,3959.36 713.47,3933.38 743.47,3933.38" fill="#37AD6B"/>
<polygon points="854.43,3967.03 839.43,3941.05 869.43,3941.05" fill="#37AD6B"/>
<polygon points="938.4,3953.94 923.4,3927.96 953.4,3927.96" fill="#37AD6B"/>
<polygon points="1064.36,3966.58 1049.36,3940.6 1079.36,3940.6" fill="#37AD6B"/>
<polygon points="1148.34,3992.76 1133.34,3966.78 1163.34,3966.78" fill="#37AD6B"/>
<polygon points="1274.3,3995.46 1259.3,3969.48 1289.3,3969.48" fill="#37AD6B"/>
<polygon points="1354.07,3958.91 1339.07,3932.93 1369.07,3932.93" fill="#37AD6B"/>
<polyline fill="none" stroke="#B177DE" stroke-width="6.5" stroke-linejoin="round" points="310.48,3232.99 312.08,3828.3 318.31,3919.92 329.34,3909.09 350.89,3948.36 392.98,3930.75 435.08,3914.05 519.26,3890.13 603.44,3892.39 729.72,3930.75 856,3865.31 940.18,3916.76 1066.46,3912.7 1150.64,3896.9 1276.92,3904.58 1356.89,3909.99"/>
<polygon points="310.28,3217.89 326.48,3232.99 310.28,3248.09 294.08,3232.99" fill="#B177DE"/>
<polygon points="311.88,3813.2 328.08,3828.3 311.88,3843.4 295.68,3828.3" fill="#B177DE"/>
<polygon points="318.09,3904.82 334.29,3919.92 318.09,3935.02 301.89,3919.92" fill="#B177DE"/>
<polygon points="329.09,3893.99 345.29,3909.09 329.09,3924.19 312.89,3909.09" fill="#B177DE"/>
<polygon points="350.59,3933.26 366.79,3948.36 350.59,3963.46 334.39,3948.36" fill="#B177DE"/>
<polygon points="392.57,3915.65 408.77,3930.75 392.57,3945.85 376.37,3930.75" fill="#B177DE"/>
<polygon points="434.56,3898.95 450.76,3914.05 434.56,3929.15 418.36,3914.05" fill="#B177DE"/>
<polygon points="518.54,3875.03 534.74,3890.13 518.54,3905.23 502.34,3890.13" fill="#B177DE"/>
<polygon points="602.51,3877.29 618.71,3892.39 602.51,3907.49 586.31,3892.39" fill="#B177DE"/>
<polygon points="728.47,3915.65 744.67,3930.75 728.47,3945.85 712.27,3930.75" fill="#B177DE"/>
<polygon points="854.43,3850.21 870.63,3865.31 854.43,3880.41 838.23,3865.31" fill="#B177DE"/>
<polygon points="938.4,3901.66 954.6,3916.76 938.4,3931.86 922.2,3916.76" fill="#B177DE"/>
<polygon points="1064.36,3897.6 1080.56,3912.7 1064.36,3927.8 1048.16,3912.7" fill="#B177DE"/>
<polygon points="1148.34,3881.8 1164.54,3896.9 1148.34,3912 1132.14,3896.9" fill="#B177DE"/>
<polygon points="1274.3,3889.48 1290.5,3904.58 1274.3,3919.68 1258.1,3904.58" fill="#B177DE"/>
<polygon points="1354.07,3894.89 1370.27,3909.99 1354.07,3925.09 1337.87,3909.99" fill="#B177DE"/>
<path fill="#000" d="M201.97 3166H1468.95V4185.9H201.97ZM206 3169.9H1464.1V4181.1H206Z" fill-rule="evenodd"/>
<text transform="translate(181.8 3181.6) scale(1 1.06)" text-anchor="end" font-family='"Liberation Sans", sans-serif' font-size="42.6" fill="#000">0.20</text>
<text transform="translate(181.8 3271.87) scale(1 1.06)" text-anchor="end" font-family='"Liberation Sans", sans-serif' font-size="42.6" fill="#000">0.18</text>
<text transform="translate(181.8 3362.13) scale(1 1.06)" text-anchor="end" font-family='"Liberation Sans", sans-serif' font-size="42.6" fill="#000">0.16</text>
<text transform="translate(181.8 3452.4) scale(1 1.06)" text-anchor="end" font-family='"Liberation Sans", sans-serif' font-size="42.6" fill="#000">0.14</text>
<text transform="translate(181.8 3542.67) scale(1 1.06)" text-anchor="end" font-family='"Liberation Sans", sans-serif' font-size="42.6" fill="#000">0.12</text>
<text transform="translate(181.8 3632.93) scale(1 1.06)" text-anchor="end" font-family='"Liberation Sans", sans-serif' font-size="42.6" fill="#000">0.10</text>
<text transform="translate(181.8 3723.2) scale(1 1.06)" text-anchor="end" font-family='"Liberation Sans", sans-serif' font-size="42.6" fill="#000">0.08</text>
<text transform="translate(181.8 3813.47) scale(1 1.06)" text-anchor="end" font-family='"Liberation Sans", sans-serif' font-size="42.6" fill="#000">0.06</text>
<text transform="translate(181.8 3903.73) scale(1 1.06)" text-anchor="end" font-family='"Liberation Sans", sans-serif' font-size="42.6" fill="#000">0.04</text>
<text transform="translate(181.8 3994) scale(1 1.06)" text-anchor="end" font-family='"Liberation Sans", sans-serif' font-size="42.6" fill="#000">0.02</text>
<text transform="translate(181.8 4084.27) scale(1 1.06)" text-anchor="end" font-family='"Liberation Sans", sans-serif' font-size="42.6" fill="#000">0.00</text>
<text transform="translate(181.8 4174.53) scale(1 1.06)" text-anchor="end" font-family='"Liberation Sans", sans-serif' font-size="42.6" fill="#000">-0.02</text>
<path d="M204.5 3258.27H224M204.5 3348.53H224M204.5 3438.8H224M204.5 3529.07H224M204.5 3619.33H224M204.5 3709.6H224M204.5 3799.87H224M204.5 3890.13H224M204.5 3980.4H224M204.5 4070.67H224M204.5 4160.93H224M204.5 3213.13H214.2M204.5 3303.4H214.2M204.5 3393.67H214.2M204.5 3483.93H214.2M204.5 3574.2H214.2M204.5 3664.47H214.2M204.5 3754.73H214.2M204.5 3845H214.2M204.5 3935.27H214.2M204.5 4025.53H214.2M204.5 4115.8H214.2" stroke="#000" stroke-width="4.1" fill="none"/>
<text transform="translate(310.1 4239.1) scale(1 1.11)" text-anchor="middle" font-family='"Liberation Sans", sans-serif' font-size="42" fill="#000">0</text>
<text transform="translate(520.56 4239.1) scale(1 1.11)" text-anchor="middle" font-family='"Liberation Sans", sans-serif' font-size="42" fill="#000">5000</text>
<text transform="translate(731.02 4239.1) scale(1 1.11)" text-anchor="middle" font-family='"Liberation Sans", sans-serif' font-size="42" fill="#000">10000</text>
<text transform="translate(941.48 4239.1) scale(1 1.11)" text-anchor="middle" font-family='"Liberation Sans", sans-serif' font-size="42" fill="#000">15000</text>
<text transform="translate(1151.94 4239.1) scale(1 1.11)" text-anchor="middle" font-family='"Liberation Sans", sans-serif' font-size="42" fill="#000">20000</text>
<text transform="translate(1362.4 4239.1) scale(1 1.11)" text-anchor="middle" font-family='"Liberation Sans", sans-serif' font-size="42" fill="#000">25000</text>
<path d="M309.3 4183.5V4163.1M519.76 4183.5V4163.1M730.22 4183.5V4163.1M940.68 4183.5V4163.1M1151.14 4183.5V4163.1M1361.6 4183.5V4163.1M414.53 4183.5V4172.9M624.99 4183.5V4172.9M835.45 4183.5V4172.9M1045.91 4183.5V4172.9M1256.37 4183.5V4172.9" stroke="#000" stroke-width="4.8" fill="none"/>
<text x="836.5" y="4319.5" text-anchor="middle" font-family='"Liberation Serif", serif' font-size="53" fill="#000">Frequency (Hz)</text>
<text transform="translate(52.3 3675.75) rotate(-90)" text-anchor="middle" font-family='"Liberation Serif", serif' font-size="53" fill="#000">χ<tspan font-size="37" dy="12">ac</tspan><tspan dy="-12"> (a.u.)</tspan></text>
<rect x="1250.2" y="3182.3" width="212.9" height="241.4" fill="#fff" stroke="#000" stroke-width="2.2"/>
<path d="M1256.3 3208.7H1340.2" stroke="#515151" stroke-width="6.5" stroke-linecap="round" fill="none"/>
<rect x="1286.3" y="3197.2" width="23" height="23" fill="#515151"/>
<text transform="translate(1352.3 3222.3) scale(1 1.075)" font-family='"Liberation Sans", sans-serif' font-size="38.2" fill="#000">10 nm</text>
<path d="M1256.3 3255.83H1340.2" stroke="#F14040" stroke-width="6.5" stroke-linecap="round" fill="none"/>
<circle cx="1296.2" cy="3255.83" r="13" fill="#F14040"/>
<text transform="translate(1352.3 3269.43) scale(1 1.075)" font-family='"Liberation Sans", sans-serif' font-size="38.2" fill="#000">20 nm</text>
<path d="M1256.3 3302.96H1340.2" stroke="#1A6FDF" stroke-width="6.5" stroke-linecap="round" fill="none"/>
<polygon points="1296.2,3285.64 1281.2,3311.62 1311.2,3311.62" fill="#1A6FDF"/>
<text transform="translate(1352.3 3316.56) scale(1 1.075)" font-family='"Liberation Sans", sans-serif' font-size="38.2" fill="#000">30 nm</text>
<path d="M1256.3 3350.09H1340.2" stroke="#37AD6B" stroke-width="6.5" stroke-linecap="round" fill="none"/>
<polygon points="1296.2,3367.41 1281.2,3341.43 1311.2,3341.43" fill="#37AD6B"/>
<text transform="translate(1352.3 3363.69) scale(1 1.075)" font-family='"Liberation Sans", sans-serif' font-size="38.2" fill="#000">40 nm</text>
<path d="M1256.3 3397.22H1340.2" stroke="#B177DE" stroke-width="6.5" stroke-linecap="round" fill="none"/>
<polygon points="1296.2,3382.12 1312.4,3397.22 1296.2,3412.32 1280,3397.22" fill="#B177DE"/>
<text transform="translate(1352.3 3410.82) scale(1 1.075)" font-family='"Liberation Sans", sans-serif' font-size="38.2" fill="#000">50 nm</text>
<text x="799.5" y="4509.5" text-anchor="middle" font-family='"Liberation Serif", serif' font-size="84" fill="#000">(<tspan font-weight="bold">c</tspan>)</text>
</g>
</svg></body></html>
